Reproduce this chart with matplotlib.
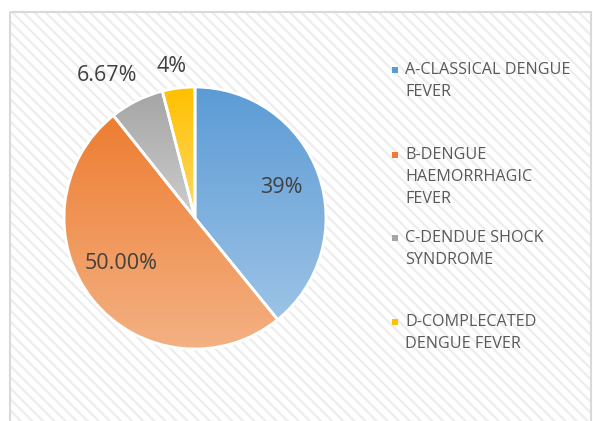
import numpy as np
import matplotlib.pyplot as plt
from matplotlib.colors import LinearSegmentedColormap
from matplotlib.patches import Rectangle

# data
categories = ["A-CLASSICAL DENGUE\nFEVER",
              "B-DENGUE\nHAEMORRHAGIC\nFEVER",
              "C-DENDUE SHOCK\nSYNDROME",
              "D-COMPLECATED\nDENGUE FEVER"]
values = [39, 50, 6.67, 4]
value_labels = ["39%", "50.00%", "6.67%", "4%"]

# gradient colours (top -> bottom of each slice)
top_colors = ["#5B9BD5", "#ED7D31", "#A5A5A5", "#FFC000"]
bottom_colors = ["#9DC3E6", "#F4B183", "#CDCDCD", "#FFD966"]

plt.rcParams['font.family'] = ['Open Sans', 'DejaVu Sans']
plt.rcParams['hatch.linewidth'] = 1.6

W, H = 593, 421
fig = plt.figure(figsize=(W / 100, H / 100), dpi=100)

# ---------- background: hatched chart area ----------
bg = fig.add_axes([0, 0, 1, 1])
bg.set_xlim(0, W)
bg.set_ylim(H, 0)
bg.axis('off')
bg.add_patch(Rectangle((9.5, 11.5), 581, 415, facecolor='white',
                       edgecolor='#ededed', hatch='\\\\\\', lw=0))
bg.add_patch(Rectangle((9.5, 11.5), 581, 415, facecolor='none',
                       edgecolor='#d9d9d9', lw=1.5))

# ---------- pie ----------
ax = fig.add_axes([64 / W, 1 - 349 / H, 262 / W, 262 / H])
wedges, _ = ax.pie(values, startangle=90, counterclock=False, radius=1,
                   wedgeprops=dict(linewidth=2, edgecolor='white'))

grad = np.linspace(0, 1, 256).reshape(-1, 1)
for w, c_top, c_bot in zip(wedges, top_colors, bottom_colors):
    ext = w.get_path().get_extents()
    cmap = LinearSegmentedColormap.from_list('g', [c_top, c_bot])
    im = ax.imshow(grad, cmap=cmap, origin='upper', aspect='auto',
                   extent=[ext.x0, ext.x1, ext.y0, ext.y1], zorder=0.5)
    im.set_clip_path(w)
    w.set_facecolor('none')
    w.set_zorder(1)

# label distance from centre (fraction of radius)
label_dist = [0.70, 0.66, 1.28, 1.17]
label_shift = [0, -7, 5, 1.5]
for w, txt, d, s in zip(wedges, value_labels, label_dist, label_shift):
    ang = np.deg2rad((w.theta1 + w.theta2) / 2 + s)
    ax.text(d * np.cos(ang), d * np.sin(ang), txt, ha='center', va='center',
            fontsize=15.5, color='#404040')

ax.set_xlim(-1, 1)
ax.set_ylim(-1, 1)
ax.set_aspect('equal')
ax.axis('off')

# ---------- legend ----------
entry_y = [70, 155, 238, 322]
for lab, c, y0 in zip(categories, top_colors, entry_y):
    bg.add_patch(Rectangle((392, y0 - 3), 6, 6, facecolor=c, lw=0))
    for i, line in enumerate(lab.split("\n")):
        bg.text(405, y0 + i * 22, line, ha='left', va='center',
                fontsize=11.6, color='#595959')

fig.savefig("out.png", dpi=100)
